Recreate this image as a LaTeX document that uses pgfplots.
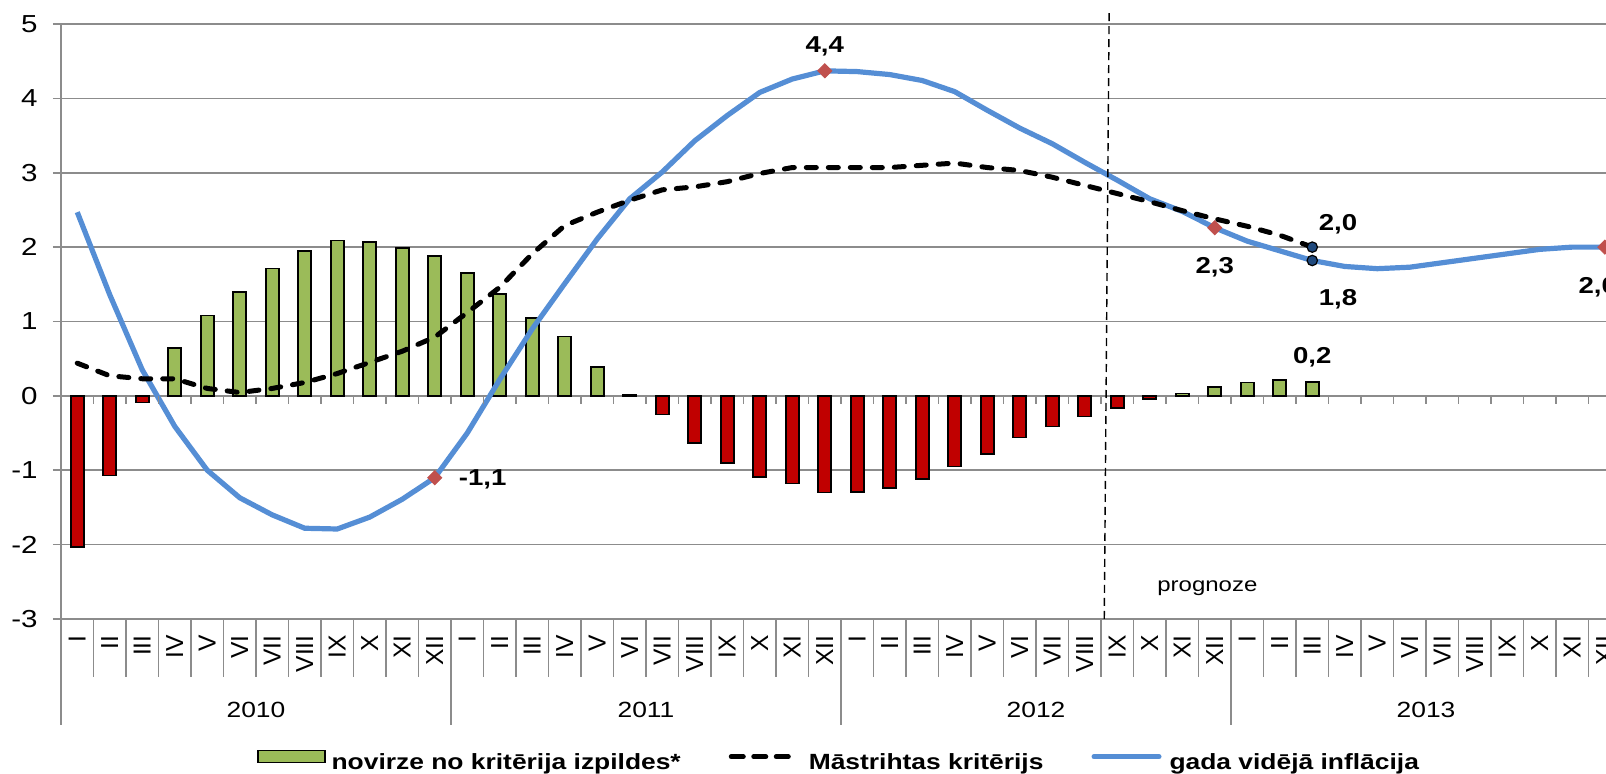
\documentclass[border=0pt]{standalone}
\usepackage{fontspec}
\setmainfont{Liberation Sans}[FakeStretch=1.2]
\newfontfamily\plainsans{Liberation Sans}
\usepackage{pgfplots}
\pgfplotsset{compat=1.18}
\usepackage{pgfplotstable}

\definecolor{gr}{HTML}{9BBB59}
\definecolor{rd}{HTML}{C00000}
\definecolor{bl}{HTML}{558ED5}
\definecolor{dm}{HTML}{C0504D}
\definecolor{db}{HTML}{1F497D}
\definecolor{gline}{HTML}{8C8C8C}

\pgfplotstableread{
x y
3 0.64
4 1.08
5 1.40
6 1.71
7 1.95
8 2.09
9 2.07
10 1.99
11 1.88
12 1.65
13 1.37
14 1.05
15 0.80
16 0.39
17 0.01
34 0.03
35 0.12
36 0.18
37 0.21
38 0.19
}\postab

\pgfplotstableread{
x y
0 -2.03
1 -1.07
2 -0.09
18 -0.25
19 -0.63
20 -0.90
21 -1.09
22 -1.18
23 -1.30
24 -1.29
25 -1.24
26 -1.12
27 -0.95
28 -0.78
29 -0.56
30 -0.41
31 -0.28
32 -0.16
33 -0.04
}\negtab

\pgfplotstableread{
x y
0 0.44
1 0.27
2 0.23
3 0.23
4 0.10
5 0.045
6 0.10
7 0.18
8 0.30
9 0.45
10 0.60
11 0.79
12 1.12
13 1.46
14 1.91
15 2.29
16 2.47
17 2.63
18 2.77
19 2.81
20 2.88
21 2.99
22 3.07
23 3.07
24 3.07
25 3.07
26 3.10
27 3.13
28 3.07
29 3.03
30 2.94
31 2.83
32 2.72
33 2.61
34 2.49
35 2.38
36 2.28
37 2.16
38 2.00
}\maastab

\pgfplotstableread{
x y
0 2.47
1 1.36
2 0.35
3 -0.41
4 -1.00
5 -1.37
6 -1.60
7 -1.78
8 -1.79
9 -1.63
10 -1.39
11 -1.10
12 -0.50
13 0.22
14 0.90
15 1.51
16 2.11
17 2.65
18 3.01
19 3.43
20 3.77
21 4.08
22 4.26
23 4.37
24 4.36
25 4.32
26 4.24
27 4.09
28 3.84
29 3.60
30 3.39
31 3.14
32 2.90
33 2.65
34 2.48
35 2.26
36 2.08
37 1.95
38 1.82
39 1.74
40 1.71
41 1.73
42 1.79
43 1.85
44 1.91
45 1.97
46 2.00
47 2.00
}\infltab

\begin{document}
\begin{tikzpicture}
\begin{axis}[
  name=ax,
  scale only axis, width=772.5pt, height=297.5pt,
  xmin=-0.5, xmax=47.038, ymin=-3, ymax=5,
  clip=false,
  axis x line*=bottom, axis y line*=left,
  axis line style={gline, line width=0.8pt},
  ytick={-3,-2,-1,0,1,2,3,4,5},
  yticklabels={-3,-2,-1,0,1,2,3,4,5},
  ymajorgrids, grid style={gline, line width=0.8pt},
  tick align=outside, major tick length=4pt,
  ytick style={gline, line width=0.8pt},
  xtick={0,...,47},
  xticklabels={I,II,III,IV,V,VI,VII,VIII,IX,X,XI,XII,I,II,III,IV,V,VI,VII,VIII,IX,X,XI,XII,I,II,III,IV,V,VI,VII,VIII,IX,X,XI,XII,I,II,III,IV,V,VI,VII,VIII,IX,X,XI,XII},
  xtick style={draw=none},
  xticklabel shift=4pt,
  yticklabel shift=7.5pt,
  xticklabel style={rotate=90, anchor=east, inner sep=0pt, font=\plainsans\fontsize{12.3}{14}\selectfont},
  yticklabel style={anchor=east, inner sep=0pt, font=\fontsize{12.3}{14}\selectfont},
  legend columns=3,
  legend cell align=left,
  legend style={at={(axis description cs:0,0)}, anchor=west, xshift=98pt, yshift=-71pt,
    draw=none, fill=none, inner sep=0pt, outer sep=0pt,
    font=\bfseries\fontsize{11}{13}\selectfont,
    nodes={inner sep=0pt},
    /tikz/every even column/.append style={column sep=24pt},
    /tikz/every odd column/.append style={column sep=3pt}},
]
\addplot[ybar, bar width=0.40, bar shift=0pt, fill=gr, draw=black, line width=0.8pt,
  legend image code/.code={\draw[fill=gr,draw=black,line width=0.8pt] (0pt,0pt) rectangle (33.5pt,6pt);}]
  table {\postab};
\addlegendentry{novirze no kritērija izpildes*}
\addlegendimage{draw=none, legend image code/.code={\draw[draw=black, line width=2.5pt, dash pattern=on 6pt off 5.25pt, line cap=round] (1.25pt,3pt) -- (29.75pt,3pt); \path[draw=none] (0pt,3pt) -- (37pt,3pt);}}
\addlegendentry{Māstrihtas kritērijs}
\addlegendimage{draw=none, legend image code/.code={\draw[draw=bl, line width=2.5pt, line cap=round] (1.25pt,3pt) -- (33.75pt,3pt); \path[draw=none] (0pt,3pt) -- (36pt,3pt);}}
\addlegendentry{gada vidējā inflācija}

\addplot[ybar, bar width=0.40, bar shift=0pt, fill=rd, draw=black, line width=0.8pt, forget plot] table {\negtab};
\addplot[bl, line width=2.6pt, forget plot] table {\infltab};
\addplot[black, line width=2.5pt, dash pattern=on 5pt off 6pt, line cap=round, forget plot] table {\maastab};
\addplot[only marks, mark=square*, mark size=2.5pt, mark options={rotate=45, fill=dm, draw=dm}, forget plot]
  coordinates {(11,-1.10) (23,4.37) (35,2.26) (47,2.00)};
\addplot[only marks, mark=*, mark size=2.6pt, mark options={fill=db, draw=black, line width=0.6pt}, forget plot]
  coordinates {(38,2.00) (38,1.82)};

% category separators and ticks on the zero line
\pgfplotsinvokeforeach{-0.5,0.5,...,46.5}{
  \draw[gline, line width=0.8pt] (axis cs:#1,0) -- ++(0pt,-4pt);
  \draw[gline, line width=0.8pt] (axis cs:#1,-3) -- ++(0pt,-29pt);
}
\pgfplotsinvokeforeach{-0.5,11.5,23.5,35.5}{
  \draw[gline, line width=0.8pt] (axis cs:#1,-3) -- ++(0pt,-53pt);
}
\node[anchor=base, font=\fontsize{11}{13}\selectfont] at ([yshift=-49.5pt]axis cs:5.5,-3) {2010};
\node[anchor=base, font=\fontsize{11}{13}\selectfont] at ([yshift=-49.5pt]axis cs:17.5,-3) {2011};
\node[anchor=base, font=\fontsize{11}{13}\selectfont] at ([yshift=-49.5pt]axis cs:29.5,-3) {2012};
\node[anchor=base, font=\fontsize{11}{13}\selectfont] at ([yshift=-49.5pt]axis cs:41.5,-3) {2013};

% forecast marker
\draw[black, line width=0.7pt, dash pattern=on 4pt off 2.5pt] (axis cs:31.6,-3) -- (axis cs:31.75,5.16);
\node[anchor=base west, inner sep=0pt, font=\fontsize{10}{12}\selectfont] at (axis cs:33.22,-2.63) {prognoze};

% data labels
\begin{scope}[every node/.style={inner sep=0pt, font=\bfseries\fontsize{11.5}{13}\selectfont}]
\node[anchor=base west] at (axis cs:11.73,-1.20) {-1,1};
\node[anchor=base] at (axis cs:23,4.62) {4,4};
\node[anchor=base] at (axis cs:35,1.64) {2,3};
\node[anchor=base] at (axis cs:38.79,2.23) {2,0};
\node[anchor=base] at (axis cs:38.79,1.22) {1,8};
\node[anchor=base] at (axis cs:38,0.43) {0,2};
\node[anchor=base west] at (axis cs:46.18,1.38) {2,0};
\end{scope}
\end{axis}
\pgfresetboundingbox
\path[use as bounding box] ([xshift=-30.5pt,yshift=-77.5pt]ax.south west) rectangle ([yshift=12pt]ax.north east);
\end{tikzpicture}
\end{document}
